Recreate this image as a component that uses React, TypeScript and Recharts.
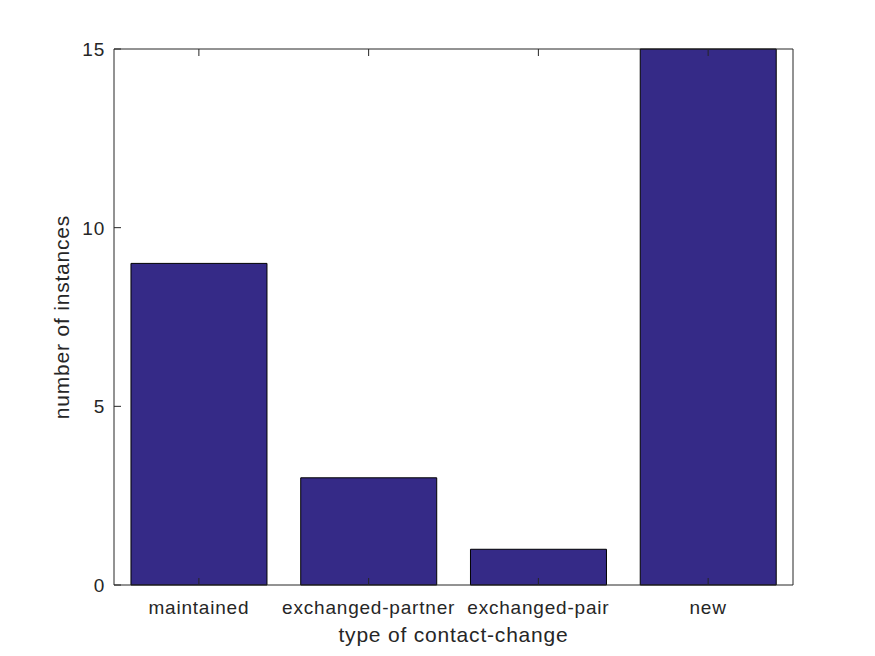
import { BarChart, Bar, XAxis, YAxis } from "recharts";

const categories = ["maintained", "exchanged-partner", "exchanged-pair", "new"];
const counts = [9, 3, 1, 15];
const yTicks = [0, 5, 10, 15];

const data = categories.map((name, i) => ({ name, value: counts[i] }));

const INK = "#262626";
const FONT = "'Liberation Sans', Arial, Helvetica, sans-serif";
const TICK = 7;

const BottomTick = ({ x, y, payload }: any) => (
  <g>
    <line x1={x} x2={x} y1={y} y2={y - TICK} stroke={INK} />
    <text x={x} y={y + 29} textAnchor="middle" fill={INK} fontSize={19} letterSpacing={0.8} fontFamily={FONT}>
      {payload.value}
    </text>
  </g>
);

const TopTick = ({ x, y }: any) => <line x1={x} x2={x} y1={y} y2={y + TICK} stroke={INK} />;

const LeftTick = ({ x, y, payload }: any) => (
  <g>
    <line x1={x} x2={x + TICK} y1={y} y2={y} stroke={INK} />
    <text x={x - 9} y={y + 7} textAnchor="end" fill={INK} fontSize={19} letterSpacing={0.8} fontFamily={FONT}>
      {payload.value}
    </text>
  </g>
);

const RightTick = ({ x, y }: any) => <line x1={x} x2={x - TICK} y1={y} y2={y} stroke={INK} />;

export default function App() {
  return (
    <div style={{ position: "absolute", left: 0, top: 0, background: "#fff" }}>
      <BarChart
        width={875}
        height={656}
        data={data}
        margin={{ top: 39, right: 72, bottom: 11, left: 54 }}
        barCategoryGap="10%"
      >
        <XAxis
          xAxisId="b"
          dataKey="name"
          orientation="bottom"
          height={60}
          tickSize={0}
          tickMargin={0}
          tickLine={false}
          axisLine={{ stroke: INK }}
          tick={BottomTick}
          interval={0}
          label={{
            value: "type of contact-change",
            position: "insideBottom",
            offset: 3,
            fill: INK,
            fontSize: 21,
            letterSpacing: 0.8,
            fontFamily: FONT,
          }}
        />
        <XAxis
          xAxisId="t"
          dataKey="name"
          orientation="top"
          height={10}
          tickSize={0}
          tickMargin={0}
          tickLine={false}
          axisLine={{ stroke: INK }}
          tick={TopTick}
          interval={0}
        />
        <YAxis
          yAxisId="l"
          domain={[0, 15]}
          ticks={yTicks}
          width={60}
          tickSize={0}
          tickMargin={0}
          tickLine={false}
          axisLine={{ stroke: INK }}
          tick={LeftTick}
          label={{
            value: "number of instances",
            angle: -90,
            position: "insideLeft",
            offset: 8,
            style: { textAnchor: "middle" },
            fill: INK,
            fontSize: 21,
            letterSpacing: 0.8,
            fontFamily: FONT,
          }}
        />
        <YAxis
          yAxisId="r"
          orientation="right"
          domain={[0, 15]}
          ticks={yTicks}
          width={10}
          tickSize={0}
          tickMargin={0}
          tickLine={false}
          axisLine={{ stroke: INK }}
          tick={RightTick}
        />
        <Bar
          xAxisId="b"
          yAxisId="l"
          dataKey="value"
          fill="#352a87"
          stroke="#000"
          strokeWidth={1}
          isAnimationActive={false}
        />
      </BarChart>
    </div>
  );
}
